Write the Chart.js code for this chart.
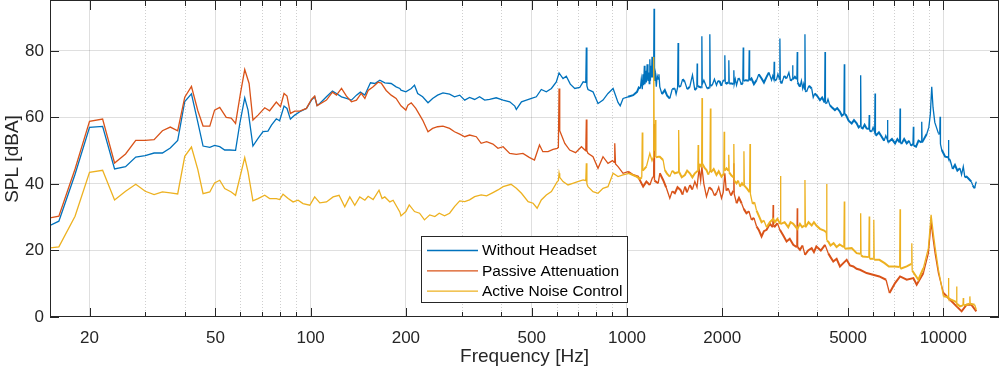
<!DOCTYPE html>
<html>
<head>
<meta charset="utf-8">
<script src="https://cdn.jsdelivr.net/npm/chart.js@4.4.1/dist/chart.umd.min.js"></script>
<style>
  html, body { margin: 0; padding: 0; background: #fff; }
  canvas { display: block; }
</style>
</head>
<body>
<canvas id="grafSpl" width="1000" height="372"></canvas>
<script>
// ===== DATA =====
const seriesLabels = ["Without Headset", "Passive Attenuation", "Active Noise Control"]
const xTickValues = [20, 50, 100, 200, 500, 1000, 2000, 5000, 10000]
const xMinorValues = [30, 40, 60, 70, 80, 90, 300, 400, 600, 700, 800, 900, 3000, 4000, 6000, 7000, 8000, 9000]
const yTickValues = [0, 20, 40, 60, 80]

// [frequency Hz, SPL dBA]
const withoutHeadset = [
    [15,27.5],[16,28.8],[18,42.9],[20,57.0],[22,57.3],[24,44.5],[26,45.2],[28,48.1],[30,48.5],[32,49.3],[34,49.3],[36,50.8],[38,53.1],[40,64.8],[42,67.1],[44,58.5],
    [45.7,51.4],[48,51.0],[49.7,51.6],[51.6,51.2],[53.5,50.2],[55.5,50.2],[57.9,50.1],[59.7,58.1],[61.9,65.9],[63.4,62.2],[65.7,51.4],[68.2,53.7],[70.7,55.7],[73.3,55.9],[75.2,57.7],[77.9,59.6],[79.8,59.0],[82.4,63.4],[84.2,62.7],[86.3,59.5],[89.1,60.7],[92.4,61.7],[97,62.7],[100.6,65.2],[103,66.2],[104.8,63.6],[106.9,64.2],[112.2,66.2],[117.2,67.9],[120.7,67.2],[125.2,66.2],[129.8,65.7],[134.6,65.2],[139.6,66.7],[143.6,67.6],[148.4,66.7],[152,68.9],[154.6,70.4],[159.6,70.2],[165.5,71.2],[171.6,70.4],[179.7,70.2],[186.3,69.2],[191.4,68.7],
    [193,68.2],[200,67.7],[208,68.7],[213,69.7],[218,67.2],[226,66.2],[235,64.4],[243,65.7],[252,66.7],[262,67.4],[275,67.0],[285,66.2],[296,66.7],[307,65.2],[318,66.0],[330,65.4],[342,66.2],[355,65.2],[368,65.4],[386,65.9],[406,65.2],[426,64.7],[442,63.4],[447,62.4],[464,64.7],[481,65.2],[499,65.7],[517,66.2],[536,68.4],[556,67.7],[577,68.7],[598,70.7],[610,73.4],[628,71.7],[643,72.4],[662,70.0],[684,68.7],[709,69.0],[727,70.7],[741,70.5],[744,81.0],[747,69.5],[753,68.4],[781,67.7],[810,64.2],[840,65.2],[871,67.2],[904,68.7],[937,64.5],[952,63.5],[972,65.7],[1008,66.2],[1046,66.7],
    [1076,67.7],[1090,69],[1102,68.7],[1110,71.5],[1118,68.5],[1124,73],[1129,69.7],[1135,75.5],[1140,70],[1146,74],[1152,70.5],[1158,76],[1165,71],[1171,73.5],[1176,70.2],[1181,77.5],[1186,71],[1192,75.5],[1196,72],[1200,78.2],[1204,72],[1209,74],[1214,72],[1218,92.7],[1222,71],[1230,73],[1238,69.2],[1246,72.5],[1255,71.5],[1262,73],[1270,69.2],
    [1290,67],[1317,68.2],[1340,66.5],[1366,65.7],[1390,68.5],[1417,68.7],[1430,67],[1446,69],[1451,82.4],[1456,69.5],[1476,69.2],[1500,71.5],[1524,70.7],[1550,68.5],[1580,69.2],[1595,71],[1611,72.7],[1639,68.2],[1663,69],[1667,76.2],[1671,69.5],[1691,69.2],[1720,69],[1725,84.4],[1730,70],[1750,71.2],[1792,68.7],[1822,69],[1828,85.0],[1834,69.5],[1860,69.7],[1890,71.5],[1919,69.7],[1940,71],[1966,70.7],[1990,69.5],[2015,71.2],[2033,71],[2039,78.7],[2045,70.5],[2064,70.2],[2093,70.5],[2099,77.2],[2105,70.2],[2145,70.2],[2171,70],[2177,74.2],[2183,70],[2200,71.5],[2220,69.7],[2250,71.8],[2275,71.2],[2300,69.8],[2324,70.5],[2331,81.0],[2338,71],[2375,71.2],[2428,71],[2435,80.2],[2442,71.2],[2475,71.7],[2520,70],[2569,71.2],[2610,73],[2664,71.7],[2710,70.5],[2763,72.2],[2810,73.5],[2865,71.2],[2890,72.5],[2912,71.5],[2920,76.7],[2928,71.2],[2967,71.2],[3000,73],[3035,71.5],[3044,83.7],[3053,71],[3085,70.2],[3140,72.5],[3196,71.7],[3250,73.5],[3290,71],[3330,71.5],[3339,75.7],[3348,71.5],[3395,72.2],[3444,71.5],[3454,79.7],[3464,70.5],[3523,69.2],[3560,71],[3594,68.7],[3620,70],[3643,68.5],[3653,85.0],[3663,68],[3696,67.7],[3760,69.5],[3836,68.7],[3880,66],[3925,67.2],[3990,66.5],[4075,65.2],[4140,66],[4216,64.5],[4228,79.7],[4240,64.5],[4277,64.2],[4320,65.5],[4376,63.7],[4450,63],[4544,62.2],[4620,62.8],[4714,61.7],[4780,60.5],[4851,61],[4865,76.0],[4879,61],[4926,60.7],[5020,59],[5133,58.2],[5220,59.2],[5322,58.2],[5400,57],[5465,57.5],[5480,72.7],[5495,57],[5562,56.7],[5640,57.8],[5724,56.7],[5817,56.5],[5833,60.7],[5849,56],[5936,55.7],[6000,57],[6068,55.5],[6085,67.2],[6102,55],[6148,54.7],[6260,55.5],[6387,54.2],[6500,53],[6580,54.5],[6642,53.5],[6661,59.2],[6680,53],[6731,52.7],[6880,53.5],[7039,52.2],[7160,53.5],[7280,52.5],[7300,62.7],[7320,52.2],[7389,52.2],[7520,53.5],[7663,52.2],[7800,53],[7900,51.5],[8020,52],[8043,57.2],[8066,51.5],[8199,51.2],[8350,53],[8523,52.5],[8547,58.7],[8571,52.5],[8864,55],[9000,57],[9100,61],[9193,69.2],[9280,63],[9400,58.5],[9652,55.2],[9745,55],[9770,60.2],[9795,52],[9891,50.2],[10136,48.2],[10354,48],[10382,53.2],[10410,47.5],[10509,47.2],[10700,44.5],[10885,45.7],[11080,44],[11289,44.7],[11420,42.8],[11567,45.2],[11700,42],[11851,42.2],[12050,41.5],[12263,40.7],[12400,39.5],[12562,38.7],[12650,40],[12716,40.7]
]

const passiveAttenuation = [
    [15,29.8],[16,30.3],[18,44.5],[20,58.8],[22,59.5],[24,46.3],[26,49.0],[28,53.1],[30,53.1],[32,53.3],[34,56.0],[36,57.1],[38,56.0],[40,66.1],[42,69.3],[44,62.0],
    [45.7,57.4],[48,57.4],[49.7,62.2],[51.6,63.0],[54.1,60.0],[56.1,59.8],[57.9,58.2],[60,67.2],[61.9,74.4],[63.9,70.2],[65.7,59.2],[68.2,60.7],[71.6,62.9],[74.2,62.0],[77.9,64.6],[80.3,63.2],[82.4,67.2],[84.2,66.4],[86.3,61.2],[89.1,61.9],[92.4,61.9],[97,62.7],[100.6,65.4],[103,66.4],[104.8,63.5],[112.2,65.2],[117.2,67.6],[120.7,66.7],[125.2,68.7],[129.8,66.4],[134.6,64.7],[139.6,65.2],[144.5,67.2],[148.4,65.7],[152,68.1],[157.6,69.2],[163.4,70.6],[167.2,70.3],[173.3,68.1],[179.7,66.7],[186.3,65.7],
    [193,63.5],[200,62.2],[203,63.7],[208,64.4],[215,62.7],[226,59.2],[235,55.7],[243,56.7],[252,57.2],[262,57.4],[275,56.7],[285,55.7],[296,55.0],[307,54.2],[318,54.7],[334,54.2],[346,52.2],[360,52.7],[377,52.0],[391,50.7],[406,51.2],[426,49.2],[447,48.9],[469,49.2],[491,48.0],[510,47.2],[529,51.7],[542,49.7],[563,49.7],[584,50.4],[602,50.7],[607,51],[610,68.7],[613,56],[618,55.2],[636,52.2],[659,50.2],[688,49.4],[718,51.2],[736,50.2],[741,50],[744,59.4],[747,50],[753,49.2],[781,48.2],[810,44.7],[840,48.2],[871,46.2],[900,47],[911,46.5],[915,52.2],[920,46],[937,45.2],[972,43.2],[1008,43.7],[1046,42.7],[1084,42.2],[1125,39.2],[1152,40.7],[1181,39.7],[1205,42],[1214,42],[1218,58.0],[1222,41],[1255,40.2],[1270,43.2],[1301,41.2],
    [1330,39],[1366,35.7],[1390,37.8],[1417,37.2],[1445,39],[1476,38.2],[1500,36.8],[1524,39.2],[1550,37.5],[1580,39.7],[1610,38.3],[1639,40.7],[1665,39],[1691,44.7],[1710,41],[1725,45.2],[1750,40],[1784,36.2],[1820,39],[1860,38.2],[1890,36.5],[1919,37.2],[1950,39],[1990,35.7],[2015,37.5],[2039,43.2],[2060,38],[2089,38.7],[2130,36.5],[2171,38],[2177,46.2],[2183,37],[2220,34.2],[2260,35.8],[2303,34.2],[2340,32.5],[2386,31.2],[2430,31.8],[2475,29.2],[2520,29.8],[2569,27.2],[2610,26.2],[2664,24.2],[2710,25.8],[2763,26.2],[2830,28],[2890,27],[2898,33.7],[2906,27.5],[2933,27.2],[2990,28.2],[3044,26.2],[3120,24.5],[3196,22.7],[3270,23.5],[3355,21.7],[3444,21],[3454,32.7],[3464,21],[3523,20.2],[3590,21.5],[3653,18.7],[3740,20],[3836,20.7],[3900,19.5],[3970,21.2],[4100,20],[4228,21.7],[4326,19.2],[4400,18],[4490,16.7],[4600,17.5],[4714,15.2],[4830,16.2],[4950,17.2],[5070,15.5],[5196,15.2],[5320,14.5],[5453,14.2],[5724,13.2],[5997,12.7],[6278,12.2],[6592,11.2],[6760,7.2],[7039,10.2],[7300,12.2],[7663,11.2],[8043,11.7],[8238,9.7],[8652,13.2],[8972,19.2],[9150,28.5],[9300,23],[9419,19.2],[9652,13.2],[10013,7.2],[10509,5.2],[11018,3.2],[11427,1.7],[11851,3.7],[12263,3.7],[12716,1.7]
]

const activeNoiseControl = [
    [15,20.8],[16,21.1],[18,30.3],[20,43.5],[22,44.1],[24,35.2],[26,37.8],[28,39.9],[30,37.8],[32,36.8],[34,37.6],[36,37.3],[38,37.0],[40,48.3],[42,51.1],[44,44.3],
    [45.7,37.1],[48,37.6],[49.7,40.3],[51.6,41.1],[53.5,38.6],[56.1,37.6],[57.9,36.6],[61.9,47.9],[63.4,43.6],[65.7,34.9],[68.2,35.6],[71.6,36.6],[74.2,35.6],[77.9,35.6],[79.8,35.3],[81.8,36.9],[84.9,35.6],[88,34.6],[91.3,35.1],[94.6,34.1],[99.4,33.6],[103,36.1],[106.9,34.3],[112.2,34.6],[117.8,36.1],[123,36.6],[128.2,33.1],[133,36.1],[137.9,33.6],[143,36.1],[148.4,35.1],[152,36.3],[157.6,35.3],[164.5,38.1],[168.2,35.6],[171.6,36.1],[178,34.6],[182.3,35.1],[191.4,31.6],
    [193,30.4],[200,31.7],[205,33.7],[213,31.7],[221,31.2],[229,29.2],[238,30.7],[247,30.2],[255,31.2],[265,30.4],[275,31.2],[285,33.2],[296,34.9],[307,34.7],[318,35.2],[330,36.2],[346,36.7],[360,36.4],[377,37.4],[391,38.2],[406,39.2],[430,39.9],[447,38.7],[464,37.2],[487,34.7],[505,34.2],[520,32.7],[536,35.2],[556,36.7],[577,37.7],[602,40.7],[607,41],[610,43.2],[613,42],[628,40.7],[651,39.7],[674,40.2],[699,40.7],[727,41.2],[741,41],[744,46.2],[747,40],[753,39.2],[781,37.7],[810,37.2],[840,38.7],[871,39.2],[904,43.2],[937,42.2],[972,42.7],[1016,43.2],[1072,42.2],[1100,41.5],[1114,42],[1118,55.5],[1122,44],[1152,45.2],[1181,49.2],[1200,47],[1211,48],[1215,78.2],[1220,50],[1226,50],[1230,59.2],[1234,48],[1255,48.2],[1270,48.2],[1301,47.2],
    [1317,44.2],[1340,43],[1366,42.2],[1390,44],[1417,43.2],[1451,43.5],[1457,56.2],[1463,43.5],[1490,42],[1524,42.7],[1550,44],[1580,43.2],[1610,42],[1639,43.2],[1675,44],[1679,51.7],[1684,44],[1700,46],[1722,45],[1727,65.8],[1732,46],[1760,44.8],[1784,44.2],[1810,42.8],[1830,44],[1836,62.7],[1842,43.5],[1880,44.5],[1919,42.7],[1950,43.8],[1990,42.2],[2023,43],[2029,55.7],[2035,44],[2064,44.7],[2092,44],[2098,48.8],[2104,43.5],[2140,42.5],[2171,42],[2177,52.0],[2183,41],[2220,40.2],[2250,41],[2275,39.2],[2310,40.2],[2336,39.5],[2343,49.8],[2350,39.5],[2400,38.5],[2442,37.5],[2449,52.0],[2456,37],[2494,34],[2530,34.5],[2569,32],[2610,30.5],[2664,28.5],[2710,29],[2763,27],[2830,28.5],[2898,29.5],[2933,28.5],[2990,29.5],[3048,28],[3057,42.4],[3066,28],[3150,28.5],[3235,27],[3290,28.5],[3355,28],[3454,26.5],[3523,28],[3580,27],[3642,27.5],[3653,41.2],[3664,27],[3750,28.5],[3836,27.5],[3900,28.5],[3970,27.5],[4075,26.5],[4200,26],[4265,25.5],[4277,40.0],[4289,23],[4340,22.5],[4400,21.5],[4500,22.2],[4598,21],[4700,21.8],[4851,21],[4865,34.7],[4879,20.5],[5133,20.7],[5322,19.2],[5465,19],[5480,31.2],[5495,18.5],[5562,18.2],[5817,18],[5833,30.2],[5849,17.5],[6013,17.5],[6030,29.2],[6047,17.2],[6278,17.2],[6523,16.2],[6731,15.2],[7039,15.2],[7280,15],[7300,32.4],[7320,14.5],[7663,15.2],[7930,16],[7952,22.2],[7974,14],[8339,11.2],[8652,14.7],[8972,20.7],[9150,30.7],[9300,25],[9419,21],[9652,14.2],[10013,6.2],[10354,6],[10382,11.7],[10410,5.5],[10885,4.7],[10990,4.5],[11018,9.2],[11046,4],[11289,3.2],[11540,3.5],[11567,5.7],[11594,3.5],[11851,3.7],[12105,4],[12135,6.2],[12165,4],[12562,3.7],[12716,2.2]
]

const colores = ["#0072BD", "#D95319", "#EDB120"]
const fuente = "'Liberation Sans', Arial, Helvetica, sans-serif"
const tinta = "#262626"

// ===== PLUGIN: minor grid, box, inner ticks, legend =====
const marcoMatlab = {
    id: "marcoMatlab",
    beforeDatasetsDraw(chart) {
        const { ctx, chartArea: a, scales } = chart
        ctx.save()
        ctx.strokeStyle = "rgba(38,38,38,0.22)"
        ctx.lineWidth = 1
        ctx.setLineDash([1, 2])
        xMinorValues.forEach(v => {
            const x = Math.round(scales.x.getPixelForValue(v)) + 0.5
            ctx.beginPath()
            ctx.moveTo(x, a.top)
            ctx.lineTo(x, a.bottom)
            ctx.stroke()
        })
        ctx.restore()
    },
    afterDatasetsDraw(chart) {
        const { ctx, chartArea: a, scales } = chart
        ctx.save()
        ctx.strokeStyle = tinta
        ctx.lineWidth = 1
        ctx.beginPath()
        xTickValues.forEach(v => {
            const x = Math.round(scales.x.getPixelForValue(v)) + 0.5
            ctx.moveTo(x, a.bottom); ctx.lineTo(x, a.bottom - 9)
            ctx.moveTo(x, a.top); ctx.lineTo(x, a.top + 9)
        })
        xMinorValues.forEach(v => {
            const x = Math.round(scales.x.getPixelForValue(v)) + 0.5
            ctx.moveTo(x, a.bottom); ctx.lineTo(x, a.bottom - 5)
            ctx.moveTo(x, a.top); ctx.lineTo(x, a.top + 5)
        })
        yTickValues.forEach(v => {
            const y = Math.round(scales.y.getPixelForValue(v)) + 0.5
            ctx.moveTo(a.left, y); ctx.lineTo(a.left + 9, y)
            ctx.moveTo(a.right, y); ctx.lineTo(a.right - 9, y)
        })
        ctx.stroke()
        ctx.strokeRect(Math.round(a.left) + 0.5, Math.round(a.top) - 0.5, Math.round(a.right - a.left) - 1, Math.round(a.bottom - a.top))
        ctx.restore()
    },
    afterDraw(chart) {
        const { ctx } = chart
        const caja = { x: 421.5, y: 236.5, w: 206, h: 66 }
        ctx.save()
        ctx.fillStyle = "#fff"
        ctx.fillRect(caja.x, caja.y, caja.w, caja.h)
        ctx.strokeStyle = tinta
        ctx.lineWidth = 1
        ctx.strokeRect(caja.x, caja.y, caja.w, caja.h)
        ctx.font = "15.5px " + fuente
        ctx.textBaseline = "middle"
        ctx.textAlign = "left"
        chart.data.datasets.forEach((ds, i) => {
            const y = caja.y + 14 + i * 20.3
            ctx.strokeStyle = ds.borderColor
            ctx.lineWidth = 1.3
            ctx.beginPath()
            ctx.moveTo(427, y)
            ctx.lineTo(478, y)
            ctx.stroke()
            ctx.fillStyle = "#000"
            ctx.fillText(ds.label, 482, y + 0.5)
        })
        ctx.restore()
    }
}

const series = [withoutHeadset, passiveAttenuation, activeNoiseControl]

// dense spectrum above 1 kHz reads as a thicker band; spikes stay thin
function anchoTramo(puntos) {
    return c => {
        const f = puntos[c.p0DataIndex][0]
        const dx = Math.abs(c.p1.x - c.p0.x)
        const dy = Math.abs(c.p1.y - c.p0.y)
        if (f >= 1000 && dy < dx * 2.5) return 2.0
        return 1.3
    }
}

new Chart(document.getElementById("grafSpl").getContext("2d"), {
    type: "line",
    data: {
        datasets: series.map((puntos, i) => ({
            label: seriesLabels[i],
            data: puntos.map(p => ({ x: p[0], y: p[1] })),
            borderColor: colores[i],
            borderWidth: 1.3,
            segment: { borderWidth: anchoTramo(puntos) },
            pointRadius: 0,
            tension: 0,
            fill: false,
            order: 2 - i
        }))
    },
    options: {
        responsive: false,
        animation: false,
        devicePixelRatio: 1,
        layout: { padding: { top: 1, right: 1, left: 0, bottom: 0 } },
        plugins: { legend: { display: false }, tooltip: { enabled: false } },
        scales: {
            x: {
                type: "logarithmic",
                min: 15,
                max: 15000,
                afterBuildTicks: s => { s.ticks = xTickValues.map(v => ({ value: v })) },
                afterFit: s => { s.height = 55; s.paddingLeft = 0; s.paddingRight = 0 },
                ticks: {
                    callback: v => String(v),
                    autoSkip: false,
                    maxRotation: 0,
                    padding: 11,
                    color: tinta,
                    font: { family: fuente, size: 17 }
                },
                grid: { color: "rgba(38,38,38,0.15)", drawTicks: false },
                border: { display: false },
                title: {
                    display: true,
                    text: "Frequency [Hz]",
                    color: tinta,
                    font: { family: fuente, size: 19 },
                    padding: { top: 0, bottom: 4 }
                }
            },
            y: {
                min: 0,
                max: 95,
                afterBuildTicks: s => { s.ticks = yTickValues.map(v => ({ value: v })) },
                afterFit: s => { s.width = 50; s.paddingTop = 0; s.paddingBottom = 0 },
                ticks: {
                    padding: 6,
                    color: tinta,
                    font: { family: fuente, size: 17 }
                },
                grid: {
                    color: c => c.tick && c.tick.value === 0 ? "rgba(0,0,0,0)" : "rgba(38,38,38,0.15)",
                    drawTicks: false
                },
                border: { display: false },
                title: {
                    display: true,
                    text: "SPL [dBA]",
                    color: tinta,
                    font: { family: fuente, size: 19 },
                    padding: { top: 1, bottom: 0 }
                }
            }
        }
    },
    plugins: [marcoMatlab]
})
</script>
</body>
</html>
